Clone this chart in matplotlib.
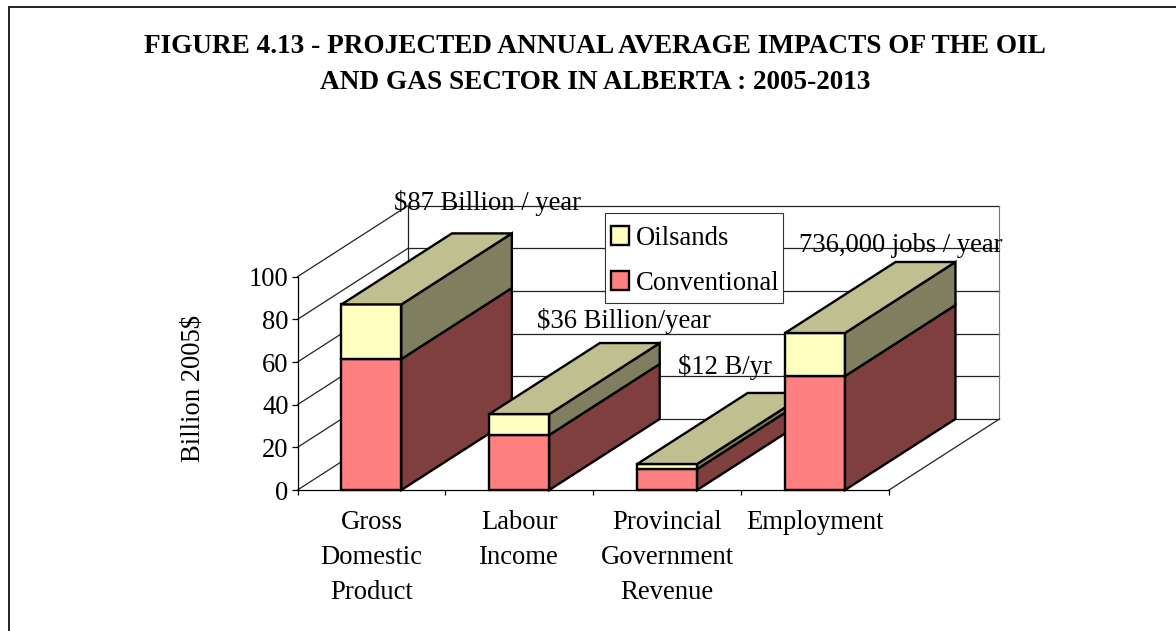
import matplotlib
matplotlib.use("Agg")
import matplotlib.pyplot as plt
from matplotlib.lines import Line2D
from matplotlib.patches import Patch, Polygon, Rectangle

plt.rcParams['font.family'] = ['Liberation Serif', 'DejaVu Serif']

# Data
categories = ['Gross\nDomestic\nProduct', 'Labour\nIncome', 'Provincial\nGovernment\nRevenue', 'Employment']
conventional = [61.4, 25.8, 9.8, 53.4]
oilsands = [25.6, 9.8, 2.4, 20.2]
y_ticks = [0, 20, 40, 60, 80, 100]
bar_notes = ['$87 Billion / year', '$36 Billion/year', '$12 B/yr', '736,000 jobs / year']
title = 'FIGURE 4.13 - PROJECTED ANNUAL AVERAGE IMPACTS OF THE OIL\nAND GAS SECTOR IN ALBERTA : 2005-2013'

W, H = 1176, 631
# pseudo 3D depth, in data units
depth_x = 0.747
depth_y = 33.3
bar_width = 0.405
font_size = 19.2

colors = {'Conventional': ('#FF8080', '#7F3F3F'), 'Oilsands': ('#FFFFC0', '#7F7F60')}
top_color = '#BFBF90'
line_w = 1.7


def px_rect(left, right, top, bottom):
    return [left / W, 1 - bottom / H, (right - left) / W, (bottom - top) / H]


fig = plt.figure(figsize=(W / 100, H / 100), dpi=100)
fig.patch.set_facecolor('white')

# chart border only on the top and left, as in the source
fig.add_artist(Line2D([8.5 / W, 8.5 / W], [0, 1 - 6.5 / H], color='#222222', lw=1.4))
fig.add_artist(Line2D([8.5 / W, 1], [1 - 6.5 / H, 1 - 6.5 / H], color='#222222', lw=1.4))

fig.text(595 / W, 1 - 64.5 / H, title, ha='center', va='center', fontsize=19.6,
         fontweight='bold', linespacing=1.56)

ax = fig.add_axes(px_rect(297.5, 889, 276.7, 490))
ax.set_xlim(0, 4)
ax.set_ylim(0, 100)
ax.patch.set_alpha(0)
for side in ['top', 'right']:
    ax.spines[side].set_visible(False)
for side in ['left', 'bottom']:
    ax.spines[side].set_linewidth(0.9)
    ax.spines[side].set_zorder(1)

# walls and floor
wall = dict(color='#222222', lw=0.9, clip_on=False, zorder=1)
for v in y_ticks:
    ax.plot([0, depth_x], [v, v + depth_y], **wall)
    ax.plot([depth_x, 4 + depth_x], [v + depth_y, v + depth_y], **wall)
ax.plot([depth_x, depth_x], [depth_y, 100 + depth_y], **wall)
ax.plot([4 + depth_x, 4 + depth_x], [depth_y, 100 + depth_y], color='#777777', lw=0.8, clip_on=False, zorder=1)
ax.plot([4, 4 + depth_x], [0, depth_y], **wall)


def add_face(points, color, z):
    ax.add_patch(Polygon(points, closed=True, facecolor=color, edgecolor='black', lw=line_w,
                         joinstyle='miter', clip_on=False, zorder=z))


# each category gets its own layer so nearer bars cover the ones behind
for i in range(len(categories)):
    z = 3 + i
    x0 = i + 0.5 - bar_width / 2
    x1 = i + 0.5 + bar_width / 2
    total = conventional[i] + oilsands[i]
    ax.bar(i + 0.5, conventional[i], bar_width, color=colors['Conventional'][0], edgecolor='black',
           lw=line_w, zorder=z, clip_on=False)
    ax.bar(i + 0.5, oilsands[i], bar_width, bottom=conventional[i], color=colors['Oilsands'][0],
           edgecolor='black', lw=line_w, zorder=z, clip_on=False)
    add_face([(x1, 0), (x1 + depth_x, depth_y), (x1 + depth_x, conventional[i] + depth_y), (x1, conventional[i])],
             colors['Conventional'][1], z)
    add_face([(x1, conventional[i]), (x1 + depth_x, conventional[i] + depth_y),
              (x1 + depth_x, total + depth_y), (x1, total)], colors['Oilsands'][1], z)
    add_face([(x0, total), (x0 + depth_x, total + depth_y), (x1 + depth_x, total + depth_y), (x1, total)],
             top_color, z)

# notes above the bars
note_pos = [(0.652, 134.6), (1.62, 79.3), (2.573, 57.7), (3.39, 114.4)]
for note, (nx, ny) in zip(bar_notes, note_pos):
    ax.text(nx, ny, note, ha='left', va='center', fontsize=font_size, zorder=12, clip_on=False)

ax.set_yticks(y_ticks)
ax.set_xticks(range(5))
ax.set_xticklabels([])
ax.set_xticks([i + 0.5 for i in range(len(categories))], labels=categories, minor=True)
ax.tick_params(axis='x', which='major', length=3.6, width=0.9)
ax.tick_params(axis='x', which='minor', length=0, pad=14.5, labelsize=font_size)
ax.tick_params(axis='y', length=4.3, width=0.9, pad=2, labelsize=font_size)
for lab in ax.get_xticklabels(minor=True):
    lab.set_linespacing(1.52)

ax.set_ylabel('Billion 2005$', fontsize=font_size)
ax.yaxis.set_label_coords(-0.154, 0.475)

# legend box is drawn separately, its padding is not even on both axes
ax.add_patch(Rectangle((605 / W, 1 - 303 / H), 178 / W, 90.3 / H, transform=fig.transFigure,
                       facecolor='white', edgecolor='#333333', lw=0.8, clip_on=False, zorder=10))
handles = [Patch(facecolor=colors['Oilsands'][0], edgecolor='black', lw=line_w, label='Oilsands'),
           Patch(facecolor=colors['Conventional'][0], edgecolor='black', lw=line_w, label='Conventional')]
leg = ax.legend(handles=handles, loc='upper left', bbox_to_anchor=((611 - 297.5) / 591.5, (490 - 226) / 213.3),
                fontsize=font_size, frameon=False, handlelength=0.68, handleheight=0.68, handletextpad=0.26,
                labelspacing=0.75, borderpad=0, borderaxespad=0)
leg.set_zorder(11)

fig.savefig('out.png', dpi=100, facecolor='white')
